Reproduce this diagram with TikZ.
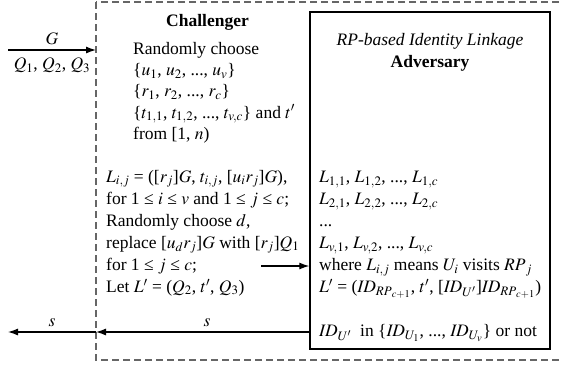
\documentclass[tikz,border=0pt]{standalone}
\usepackage{amsmath}
\usepackage{mathptmx}
\usepackage{fontspec}
\setmainfont{Liberation Serif}
\usepackage{tikz}
\usetikzlibrary{arrows.meta}

\tikzset{
  body/.style={inner sep=0pt, align=left, anchor=north west},
  flow/.style={line width=1.2pt, -{Latex[length=10pt,width=7pt]}},
  lab/.style={inner sep=0pt},
}

\begin{document}
\begin{tikzpicture}[x=1pt, y=-1pt, font=\fontsize{17.5}{22}\selectfont]
\useasboundingbox (0,0) rectangle (561,368);
\draw[gray!80!black, line width=1.3pt, dash pattern=on 7pt off 4pt] (96,2) rectangle (580,360);
\node[draw, line width=1.4pt, minimum width=240pt, minimum height=337pt, inner sep=0pt] (adv) at (430,180.5) {};

\node[anchor=base, inner sep=0pt, font=\fontsize{17.5}{22}\selectfont\bfseries] (chal) at (207.5,26) {Challenger};
\node[body, font=\fontsize{17.5}{21.3}\selectfont] (pick) at (133,42) {Randomly choose\\
  \{$u_1$, $u_2$, ..., $u_v$\}\\
  \{$r_1$, $r_2$, ..., $r_c$\}\\
  \{$t_{1,1}$, $t_{1,2}$, ..., $t_{v,c}$\} and $t'$\\
  from [1, $n$)};
\node[body] (mix) at (106,170) {$L_{i,j}$ = ([$r_j$]$G$, $t_{i,j}$, [$u_ir_j$]$G$),\\
  for 1 ≤ $i$ ≤ $v$ and 1 ≤ $j$ ≤ $c$;\\
  Randomly choose $d$,\\
  replace [$u_dr_j$]$G$ with [$r_j$]$Q_1$\\
  for 1 ≤ $j$ ≤ $c$;\\
  Let $L'$ = ($Q_2$, $t'$, $Q_3$)};

\node[anchor=base, inner sep=0pt] (rptitle) at (430,45) {\textit{RP-based Identity Linkage}};
\node[anchor=base, inner sep=0pt] (advtitle) at (430,67) {\textbf{Adversary}};
\node[body] (links) at (319,171) {$L_{1,1}$, $L_{1,2}$, ..., $L_{1,c}$\\
  $L_{2,1}$, $L_{2,2}$, ..., $L_{2,c}$\\
  ...\\
  $L_{v,1}$, $L_{v,2}$, ..., $L_{v,c}$\\
  where $L_{i,j}$ means $U_i$ visits $\mathit{RP}_j$\\
  $L'$ = ($\mathit{ID}_{\mathit{RP}_{c+1}}$, $t'$, [$\mathit{ID}_{U'}$]$\mathit{ID}_{\mathit{RP}_{c+1}}$)\\
  \mbox{}\\
  $\mathit{ID}_{U'}$\ \ in \{$\mathit{ID}_{U_1}$, ..., $\mathit{ID}_{U_v}$\} or not};

\coordinate (src) at (8,50);
\coordinate (gatein) at (96,50);
\coordinate (mid) at (261,266);
\coordinate (gateout) at (96,332);
\coordinate (sink) at (8,332);

\draw[flow] (src) -- node[lab, above=5pt] (glab) {$G$} node[lab, below=7pt] (qlab) {$Q_1$, $Q_2$, $Q_3$} (gatein);
\draw[flow] (mid) -- (adv.west |- mid);
\draw[flow] (adv.west |- gateout) -- node[lab, above=5pt, pos=.48] (sret) {$s$} (gateout);
\draw[flow] (gateout) -- node[lab, above=5pt] (sout) {$s$} (sink);
\end{tikzpicture}
\end{document}
